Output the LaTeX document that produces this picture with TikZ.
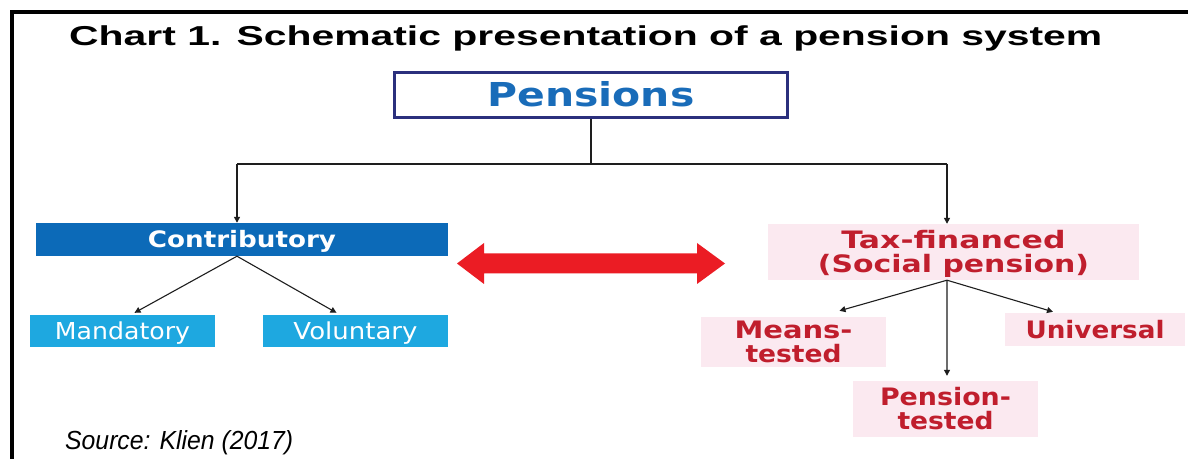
\documentclass[tikz,border=0pt]{standalone}
\usepackage{fontspec}
\usepackage{graphicx}
\usetikzlibrary{arrows.meta,calc}
\newfontfamily\arialf{Liberation Sans}
\newfontfamily\verdf{DejaVu Sans}
\newlength\capht
\newcommand\fitt[3]{\settoheight{\capht}{H}\resizebox{#1}{#2}{\raisebox{0pt}[\capht][0pt]{#3}}}
\definecolor{navyc}{RGB}{43,48,125}
\definecolor{pensblue}{RGB}{25,108,185}
\definecolor{contribc}{RGB}{12,106,184}
\definecolor{mandc}{RGB}{30,168,224}
\definecolor{pinkc}{RGB}{251,233,240}
\definecolor{redtext}{RGB}{192,30,45}
\definecolor{redarrow}{RGB}{235,28,36}
\definecolor{linec}{RGB}{30,30,30}
\begin{document}
\begin{tikzpicture}[x=1bp,y=-1bp,
  pensbox/.style={draw=navyc, line width=3bp, fill=white, inner sep=0pt, text=pensblue, font=\verdf\bfseries},
  darkbox/.style={fill=contribc, inner sep=0pt, text=white, font=\verdf\bfseries},
  lightbox/.style={fill=mandc, inner sep=0pt, text=white, font=\verdf},
  pinkbox/.style={fill=pinkc, inner sep=0pt, text=redtext, align=center, font=\verdf\bfseries\fontsize{20}{24}\selectfont},
  thinline/.style={draw=linec, line width=1.4bp},
  thickline/.style={draw=linec, line width=2.6bp},
  diagline/.style={draw=linec, line width=1.1bp},
  arrowc/.style={-{Triangle[length=6bp,width=6bp]}},
]
\useasboundingbox (0,0) rectangle (1188,459);
\fill[white] (0,0) rectangle (1188,459);
% frame
\draw[line width=3.6bp, line join=miter] (12,470) -- (12,12) -- (1195,12);
% title and source
\node[anchor=base west, inner sep=0pt, font=\arialf\bfseries] (title) at (69,45.5)
  {\fitt{1033bp}{18.8bp}{Chart 1. Schematic presentation of a pension system}};
\node[anchor=base west, inner sep=0pt, font=\arialf\itshape] (src) at (65,450)
  {\fitt{228bp}{18bp}{Source: Klien (2017)}};
% boxes
\node[pensbox, minimum width=393bp, minimum height=45bp] (pens) at (591,95)
  {\fitt{207bp}{24bp}{Pensions}};
\node[darkbox, minimum width=412bp, minimum height=33bp] (contrib) at (242,239.5)
  {\fitt{188bp}{16.5bp}{Contributory}};
\node[lightbox, minimum width=185bp, minimum height=32bp] (mand) at (122.5,331)
  {\fitt{135bp}{17bp}{Mandatory}};
\node[lightbox, minimum width=185bp, minimum height=32bp] (vol) at (355.5,331)
  {\fitt{124bp}{17bp}{Voluntary}};
\node[pinkbox, minimum width=371bp, minimum height=56bp] (tax) at (953.5,252)
  {\fitt{224bp}{17.5bp}{Tax-financed}\\\fitt{271bp}{17.5bp}{(Social pension)}};
\node[pinkbox, minimum width=185bp, minimum height=50bp] (means) at (793.5,342)
  {\fitt{118bp}{17.5bp}{Means-}\\\fitt{96bp}{17.5bp}{tested}};
\node[pinkbox, minimum width=180bp, minimum height=33bp] (univ) at (1095,329.5)
  {\fitt{139bp}{17.5bp}{Universal}};
\node[pinkbox, minimum width=185bp, minimum height=56bp] (pent) at (945.5,409)
  {\fitt{131bp}{17.5bp}{Pension-}\\\fitt{96bp}{17.5bp}{tested}};
% connectors from Pensions
\coordinate (jl) at (237,164);
\coordinate (jr) at (947,164);
\draw[thinline] (pens.south) -- (pens.south |- jl);
\draw[thickline] (jl) -- (jr);
\draw[thinline, arrowc] (jl) -- (jl |- contrib.north);
\draw[thinline, arrowc] (jr) -- (jr |- tax.north);
% contributory branches
\draw[diagline, arrowc] ([xshift=-5bp]contrib.south) -- ([xshift=12bp,yshift=2bp]mand.north);
\draw[diagline, arrowc] ([xshift=-5bp]contrib.south) -- ([xshift=-19bp,yshift=2bp]vol.north);
% tax-financed branches
\draw[diagline, arrowc] ([xshift=-6.5bp]tax.south) -- ([xshift=46bp,yshift=6bp]means.north);
\draw[diagline, arrowc] ([xshift=-6.5bp]tax.south) -- ([xshift=-42bp,yshift=1bp]univ.north);
\draw[diagline, arrowc] ([xshift=-6.5bp]tax.south) -- ([xshift=1.5bp,yshift=5bp]pent.north);
% red double arrow
\fill[redarrow] (457,263.5) -- (484,243) -- (484,253.5) -- (697,253.5) -- (697,243)
  -- (725,263.5) -- (697,284) -- (697,273.5) -- (484,273.5) -- (484,284) -- cycle;
\end{tikzpicture}
\end{document}
